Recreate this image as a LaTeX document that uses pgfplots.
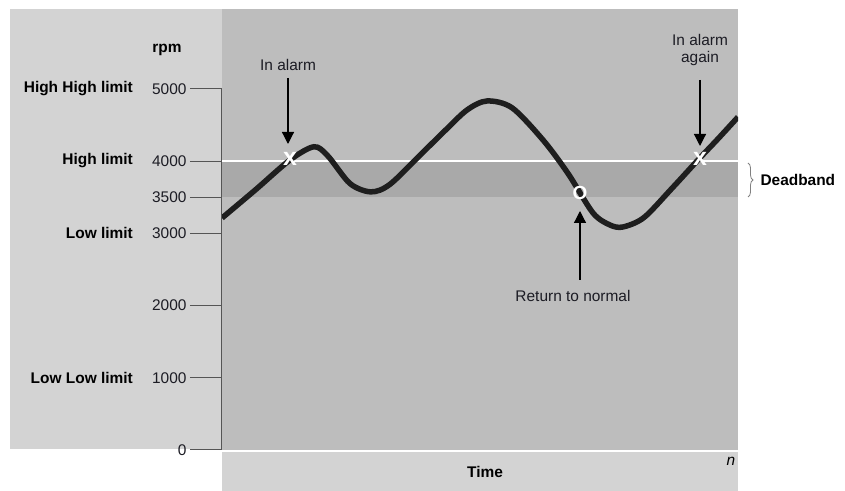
\documentclass[border=0pt]{standalone}
\usepackage{pgfplots}
\pgfplotsset{compat=1.18}
\usepackage{fontspec}
\setmainfont{Liberation Sans}
\usetikzlibrary{arrows.meta,decorations.pathreplacing}
\definecolor{lightpanel}{HTML}{D3D3D3}
\definecolor{plotgray}{HTML}{BDBDBD}
\definecolor{bandgray}{HTML}{A9A9A9}
\definecolor{axgray}{HTML}{555555}
\definecolor{curve}{HTML}{1E1E1E}
\definecolor{txt}{HTML}{1C1C24}
\begin{document}
\begin{tikzpicture}[x=1bp,y=1bp,font=\fontsize{15.5}{17}\selectfont\color{txt}]
\useasboundingbox (-222,-41) rectangle (623,450);
% panels
\fill[lightpanel] (-212,1) rectangle (0,441);
\fill[lightpanel] (0,-2) rectangle (516,-41);
\begin{axis}[
  at={(0,0)}, anchor=south west,
  scale only axis, width=516bp, height=441bp,
  xmin=0, xmax=516, ymin=0, ymax=6108,
  axis background/.style={fill=plotgray},
  axis line style={draw=none},
  xtick=\empty,
  ytick={0,1000,2000,3000,3500,4000,5000},
  yticklabels={0,1000,2000,3000,3500,4000,5000},
  ytick pos=left,
  tick align=outside,
  major tick length=32bp,
  tick style={draw=axgray, line width=1bp},
  yticklabel style={font=\fontsize{15.5}{17}\selectfont\color{txt}},
  /pgf/number format/assume math mode=true,
  clip=true,
]
\addplot[draw=none, fill=bandgray] coordinates {(0,3500) (516,3500) (516,4000) (0,4000)} -- cycle;
\addplot[white, line width=1.6bp] coordinates {(0,4000) (516,4000)};
\addplot[curve, line width=5.5bp, smooth, tension=0.5] coordinates {
(0,3213) (34,3610) (68,4017) (92,4200) (106,4070) (128,3690)
(149,3575) (168,3680) (200,4110) (222,4410) (245,4709) (265,4834)
(290,4740) (321,4294) (346,3830) (371,3283)
(388,3116) (401,3089) (422,3220) (450,3625) (476,4017) (496,4310) (516,4612)};
\addplot[only marks, mark=text, text mark={x}, text mark as node=true,
  text mark style={font=\bfseries\fontsize{25}{25}\selectfont, text=white, yshift=2bp}]
  coordinates {(68,4000) (478,4000)};
\addplot[only marks, mark=text, text mark={O}, text mark as node=true,
  text mark style={font=\bfseries\fontsize{19}{19}\selectfont, text=white}]
  coordinates {(358,3560)};
\end{axis}
\draw[axgray, line width=1bp] (0,0) -- (0,361);
% y labels
\node[font=\bfseries\fontsize{15.5}{17}\selectfont] at (-55,400) {rpm};
\node[anchor=east, font=\bfseries\fontsize{15.5}{17}\selectfont, inner sep=0pt] at (-89,361) {High High limit};
\node[anchor=east, font=\bfseries\fontsize{15.5}{17}\selectfont, inner sep=0pt] at (-89,289) {High limit};
\node[anchor=east, font=\bfseries\fontsize{15.5}{17}\selectfont, inner sep=0pt] at (-89,217) {Low limit};
\node[anchor=east, font=\bfseries\fontsize{15.5}{17}\selectfont, inner sep=0pt] at (-89,72) {Low Low limit};
% annotations
\node at (66,385) {In alarm};
\draw[black, line width=1.2bp, -{Triangle[width=12bp,length=12bp]}] (66,372) -- (66,306);
\node[align=center] at (478,400) {In alarm\\again};
\draw[black, line width=1.2bp, -{Triangle[width=12bp,length=12bp]}] (478,370) -- (478,304);
\node at (351,154) {Return to normal};
\draw[black, line width=1.2bp, -{Triangle[width=12bp,length=12bp]}] (358,170) -- (358,239);
\draw[gray, line width=0.8bp, decorate, decoration={brace, amplitude=5bp}] (526,287) -- (526,253);
\node[anchor=west, font=\bfseries\fontsize{15.5}{17}\selectfont] at (535,270) {Deadband};
\node[font=\bfseries\fontsize{15.5}{17}\selectfont] at (263,-22) {Time};
\node[font=\itshape\fontsize{15.5}{17}\selectfont] at (509,-11) {n};
\end{tikzpicture}
\end{document}
